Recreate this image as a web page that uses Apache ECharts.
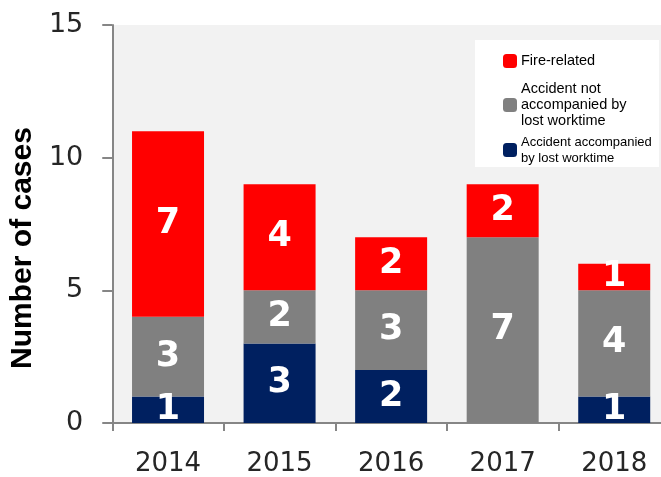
<!DOCTYPE html>
<html>
<head>
<meta charset="utf-8">
<script src="https://cdn.jsdelivr.net/npm/echarts@6/dist/echarts.min.js"></script>
<style>
    html, body { margin: 0; padding: 0; background: #fff; overflow: hidden; }
    #chart { width: 671px; height: 477px; }
</style>
</head>
<body>
<div id="chart"></div>
<script>
// data
var years = ['2014', '2015', '2016', '2017', '2018'];
var seriesNames = [
    'Accident accompanied\nby lost worktime',
    'Accident not\naccompanied by\nlost worktime',
    'Fire-related'
];
var lostWorktime = [1, 3, 2, 0, 1];
var noLostWorktime = [3, 2, 3, 7, 4];
var fireRelated = [7, 4, 2, 2, 1];
var yTicks = [0, 5, 10, 15];

var colors = ['#002060', '#808080', '#ff0000'];
var values = [lostWorktime, noLostWorktime, fireRelated];

var chart = echarts.init(document.getElementById('chart'));

var series = values.map(function (arr, i) {
    return {
        name: seriesNames[i],
        type: 'bar',
        stack: 'total',
        barWidth: 72,
        itemStyle: { color: colors[i] },
        label: {
            show: true,
            position: 'inside',
            color: '#fff',
            fontFamily: 'DejaVu Sans',
            fontWeight: 'bold',
            fontSize: 35,
            formatter: function (p) { return p.value ? p.value : ''; }
        },
        data: arr
    };
});

// legend: one block per item so each can keep its own size
var legendTops = [53, 81, 134];
var legendSizes = [14.5, 14.5, 13];
var legendOrder = [2, 1, 0];
var legends = legendOrder.map(function (k, i) {
    return {
        left: 503,
        top: legendTops[i],
        padding: 0,
        itemWidth: 14,
        itemHeight: 14,
        itemGap: 0,
        selectedMode: false,
        data: [seriesNames[k]],
        textStyle: {
            fontFamily: 'Liberation Sans',
            fontSize: legendSizes[i],
            lineHeight: 16,
            color: '#000',
            padding: [0, 0, 0, -1]
        }
    };
});

var option = {
    animation: false,
    backgroundColor: '#fff',
    graphic: [{
        type: 'rect',
        shape: { x: 475, y: 40, width: 184, height: 127 },
        style: { fill: '#fff' },
        z: 0
    }],
    legend: legends,
    grid: {
        left: 111,
        top: 25,
        right: 1,
        bottom: 53,
        show: true,
        backgroundColor: '#f2f2f2',
        borderWidth: 0
    },
    xAxis: {
        type: 'category',
        data: years,
        axisLine: { lineStyle: { color: '#868686', width: 2 } },
        axisTick: { show: true, length: 8, lineStyle: { color: '#868686', width: 2 } },
        axisLabel: {
            fontFamily: 'DejaVu Sans',
            fontSize: 26,
            color: '#262626',
            margin: 28
        }
    },
    yAxis: {
        type: 'value',
        min: yTicks[0],
        max: yTicks[yTicks.length - 1],
        interval: 5,
        name: 'Number of cases',
        nameLocation: 'middle',
        nameRotate: 90,
        nameGap: 72,
        nameTextStyle: {
            fontFamily: 'Liberation Sans',
            fontWeight: 'bold',
            fontSize: 30,
            color: '#000',
            padding: [0, 48, 0, 0]
        },
        axisLine: { show: true, lineStyle: { color: '#868686', width: 2 } },
        axisTick: { show: true, length: 10, lineStyle: { color: '#868686', width: 2 } },
        splitLine: { show: false },
        axisLabel: {
            fontFamily: 'DejaVu Sans',
            fontSize: 27,
            color: '#262626',
            margin: 29
        }
    },
    series: series
};

chart.setOption(option);
</script>
</body>
</html>
